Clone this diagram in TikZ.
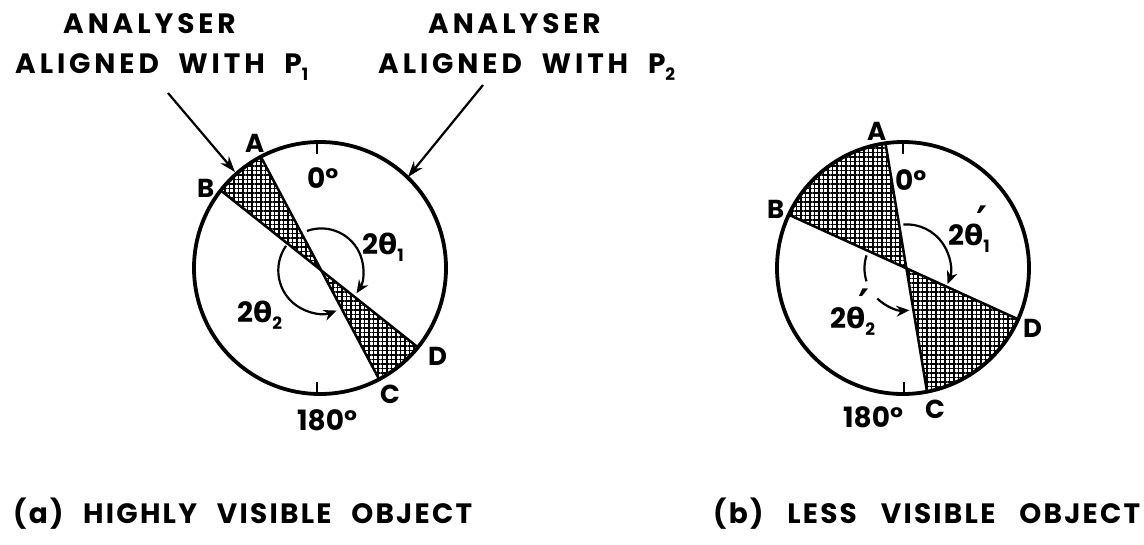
\documentclass[tikz,border=0pt]{standalone}
\usepackage{fontspec}
\setmainfont{Poppins}
\newfontfamily\gk{DejaVu Sans}
\usetikzlibrary{arrows.meta,patterns.meta,calc}
\newcommand\subdig[1]{\raisebox{-0.28em}{\fontsize{17}{17}\selectfont #1}}
\newcommand\thlab[1]{2{\gk θ}\subdig{#1}}
\newcommand\thplab[1]{2{\gk θ\rlap{\hspace{-7pt}\smash{\raisebox{9pt}{\fontsize{42}{42}\selectfont ′}}}}\subdig{#1}}
\begin{document}
\begin{tikzpicture}[x=1pt,y=1pt,
  txt/.style={anchor=base west, inner sep=0pt, font=\bfseries\fontsize{28}{28}\selectfont\addfontfeature{LetterSpace=14}},
  captext/.style={anchor=base west, inner sep=0pt, font=\bfseries\fontsize{28}{28}\selectfont\addfontfeature{LetterSpace=8}},
  num/.style={anchor=base west, inner sep=0pt, font=\bfseries\fontsize{28}{28}\selectfont},
  lbl/.style={anchor=base west, inner sep=0pt, font=\bfseries\fontsize{26}{26}\selectfont},
  rim/.style={line width=3.8pt},
  chord/.style={line width=2.5pt},
  hatchfill/.style={pattern={Hatch[angle=0,distance=4.5pt,line width=1.6pt]}},
  angarrow/.style={line width=2.2pt,-{Stealth[length=13pt,width=11pt]}},
  plainarc/.style={line width=2.2pt},
  pointer/.style={line width=2.2pt,-{Stealth[length=16pt,width=11pt]}},
  tickmark/.style={line width=2pt}]
\fill[white] (0,0) rectangle (1144,-544);
\useasboundingbox (0,0) rectangle (1144,-544);

% ---------- left circle ----------
\coordinate (OL) at (320,-268);
\coordinate (AL) at ($(OL)+(118:126)$);
\coordinate (BL) at ($(OL)+(142:126)$);
\coordinate (CL) at ($(OL)+(298:126)$);
\coordinate (DL) at ($(OL)+(321:126)$);
\coordinate (XL) at (intersection of AL--CL and BL--DL);
\fill[hatchfill] (XL) -- (AL) arc[start angle=118,end angle=142,radius=126] -- cycle;
\fill[hatchfill] (XL) -- (CL) arc[start angle=298,end angle=321,radius=126] -- cycle;
\draw[chord] (AL) -- (CL);
\draw[chord] (BL) -- (DL);
\draw[rim] (OL) circle[radius=126];
\draw[tickmark] ($(OL)+(91.5:126)$) -- ++(0,-12);
\draw[tickmark] ($(OL)+(268.5:126)$) -- ++(0,12);
\draw[angarrow] ($(XL)+(110:42)$) arc[start angle=110,end angle=-33,radius=42];
\draw[angarrow] ($(XL)+(145:43)$) arc[start angle=145,end angle=291,radius=43];

\node[lbl] (lA) at (245,-152) {A};
\node[lbl] (lB) at (197,-197) {B};
\node[lbl] (lC) at (380,-403) {C};
\node[lbl] (lD) at (428,-365) {D};
\node[num] (l0) at (307,-188) {0°};
\node[num] (l180) at (297,-430) {180°};
\node[num] (lt1) at (362,-254) {\thlab{1}};
\node[num] (lt2) at (237,-322) {\thlab{2}};

% ---------- right circle ----------
\coordinate (OR) at (903,-268);
\coordinate (AR) at ($(OR)+(98:126)$);
\coordinate (BR) at ($(OR)+(155:126)$);
\coordinate (CR) at ($(OR)+(281:126)$);
\coordinate (DR) at ($(OR)+(336:126)$);
\coordinate (XR) at (intersection of AR--CR and BR--DR);
\fill[hatchfill] (XR) -- (AR) arc[start angle=98,end angle=155,radius=126] -- cycle;
\fill[hatchfill] (XR) -- (CR) arc[start angle=281,end angle=336,radius=126] -- cycle;
\draw[chord] (AR) -- (CR);
\draw[chord] (BR) -- (DR);
\draw[rim] (OR) circle[radius=126];
\draw[tickmark] ($(OR)+(90:126)$) -- ++(0,-12);
\draw[tickmark] ($(OR)+(270.5:126)$) -- ++(0,12);
\draw[angarrow] ($(XR)+(94:44)$) arc[start angle=94,end angle=-21,radius=44];
\draw[plainarc] ($(XR)+(162:42)$) arc[start angle=162,end angle=198,radius=42];
\draw[angarrow] ($(XR)+(226:42)$) arc[start angle=226,end angle=274,radius=42];

\node[lbl] (rA) at (867,-140) {A};
\node[lbl] (rB) at (767,-218) {B};
\node[lbl] (rC) at (925,-418) {C};
\node[lbl] (rD) at (1023,-337) {D};
\node[num] (r0) at (895,-190) {0°};
\node[num] (r180) at (843,-427) {180°};
\node[num] (rt1) at (948,-245) {\thplab{1}};
\node[num] (rt2) at (830,-328) {\thplab{2}};

% ---------- analyser labels ----------
\node[txt] (an1) at (63,-33) {ANALYSER};
\node[txt] (al1) at (15,-73) {\makebox[293pt][s]{ALIGNED WITH P\subdig{1}}};
\node[txt] (an2) at (428,-33) {ANALYSER};
\node[txt] (al2) at (378,-73) {\makebox[297pt][s]{ALIGNED WITH P\subdig{2}}};
\coordinate (p1s) at (168,-93);
\coordinate (p1e) at (235,-172);
\coordinate (p2s) at (483,-85);
\coordinate (p2e) at (408,-177);
\draw[pointer] (p1s) -- (p1e);
\draw[pointer] (p2s) -- (p2e);

% ---------- captions ----------
\node[captext] (capa) at (13,-523) {\makebox[459pt][s]{(a) HIGHLY VISIBLE OBJECT}};
\node[captext] (capb) at (713,-523) {\makebox[427pt][s]{(b) LESS VISIBLE OBJECT}};
\end{tikzpicture}
\end{document}
